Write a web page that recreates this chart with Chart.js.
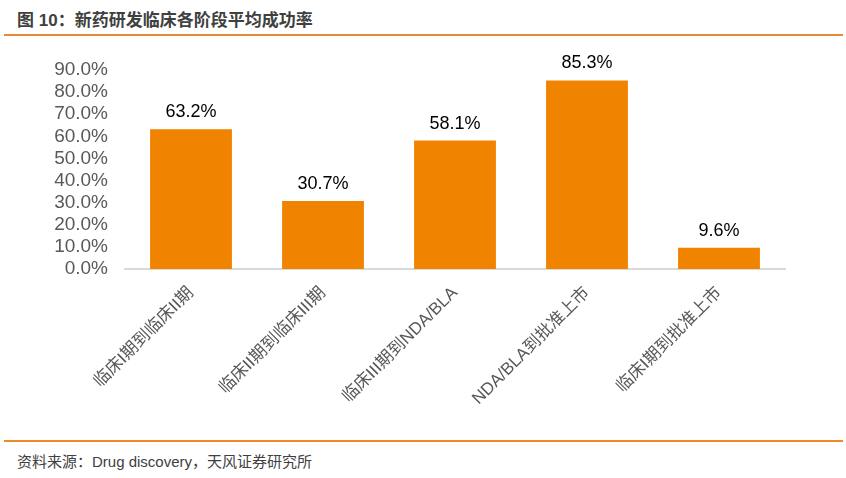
<!DOCTYPE html>
<html><head><meta charset="utf-8">
<script src="https://cdn.jsdelivr.net/npm/chart.js@4"></script>
<style>
html,body{margin:0;padding:0;background:#fff;width:846px;height:478px;overflow:hidden;font-family:"Liberation Sans",Arial,"Noto Sans CJK SC",sans-serif;}
#title{position:absolute;left:17px;top:6px;font-size:17px;font-weight:bold;color:#404040;font-family:"Liberation Sans","Noto Sans CJK SC",sans-serif;white-space:nowrap;}
#tline{position:absolute;left:4px;top:34px;width:839px;height:2px;background:#E8893A;}
#fline{position:absolute;left:4px;top:440px;width:839px;height:2px;background:#F08A26;}
#foot{position:absolute;left:17px;top:450px;font-size:15px;color:#404040;font-family:"Liberation Sans","Noto Sans CJK SC",sans-serif;white-space:nowrap;}
#wrap{position:absolute;left:0;top:40px;width:846px;height:398px;}
</style></head>
<body>
<div id="title">图 10：新药研发临床各阶段平均成功率</div>
<div id="tline"></div>
<div id="wrap"><canvas id="c"></canvas></div>
<div id="fline"></div>
<div id="foot">资料来源：Drug discovery，天风证券研究所</div>
<script>
const categories = ["临床I期到临床II期","临床II期到临床III期","临床III期到NDA/BLA","NDA/BLA到批准上市","临床I期到批准上市"];
const values = [63.2, 30.7, 58.1, 85.3, 9.6];
const yTicks = [0,10,20,30,40,50,60,70,80,90];

const valueLabels = {
  id:'valueLabels',
  afterDatasetsDraw(chart){
    const ctx = chart.ctx;
    const meta = chart.getDatasetMeta(0);
    ctx.save();
    ctx.font = '18px "Liberation Sans", Arial, sans-serif';
    ctx.fillStyle = '#000';
    ctx.textAlign = 'center';
    ctx.textBaseline = 'alphabetic';
    meta.data.forEach((bar,i)=>{
      ctx.fillText(values[i].toFixed(1)+'%', bar.x, bar.y - 12);
    });
    ctx.restore();
  }
};

new Chart(document.getElementById('c'), {
  type:'bar',
  data:{labels:categories, datasets:[{data:values, backgroundColor:'#F08300', barPercentage:0.62, categoryPercentage:1.0}]},
  options:{
    responsive:true, maintainAspectRatio:false, animation:false,
    layout:{padding:{top:30,left:0,right:61,bottom:0}},
    plugins:{legend:{display:false}, tooltip:{enabled:false}},
    scales:{
      x:{
        grid:{display:false, drawTicks:false},
        border:{display:true,color:'#D9D9D9',width:2},
        ticks:{color:'#595959', font:{size:17, family:'"Liberation Sans","Noto Sans CJK SC",sans-serif'}, maxRotation:45, minRotation:45, padding:14, autoSkip:false},
        afterFit(s){ s.height = 169; }
      },
      y:{
        min:0, max:90,
        afterBuildTicks(s){ s.ticks = yTicks.map(v=>({value:v})); },
        grid:{display:false, drawTicks:false},
        border:{display:false},
        ticks:{color:'#595959', font:{size:19, family:'"Liberation Sans", Arial, sans-serif'}, padding:17, autoSkip:false, callback:v=>v.toFixed(1)+'%'},
        afterFit(s){ s.width = 125; }
      }
    }
  },
  plugins:[valueLabels]
});
</script>
</body></html>
